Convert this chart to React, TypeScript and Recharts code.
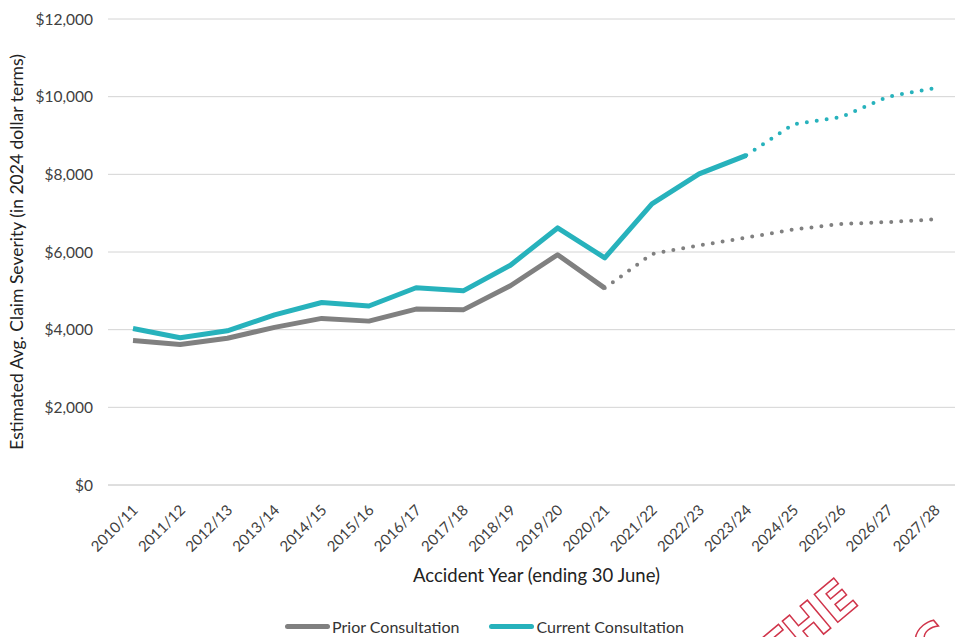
import React from "react";
import {
  CartesianGrid,
  Label,
  Legend,
  Line,
  LineChart,
  XAxis,
  YAxis,
} from "recharts";

const years = [
  "2010/11", "2011/12", "2012/13", "2013/14", "2014/15", "2015/16",
  "2016/17", "2017/18", "2018/19", "2019/20", "2020/21", "2021/22",
  "2022/23", "2023/24", "2024/25", "2025/26", "2026/27", "2027/28",
];

// values, in 2024 dollars
const priorConsultation = [
  3720, 3620, 3780, 4060, 4290, 4220, 4530, 4510, 5130, 5930, 5070,
  5950, 6170, 6370, 6580, 6720, 6770, 6840,
];
const currentConsultation = [
  4030, 3790, 3970, 4380, 4700, 4610, 5080, 5000, 5660, 6620, 5850,
  7240, 8010, 8490, 9290, 9470, 10000, 10220,
];

// last year that is actual experience; dotted after that
const priorLastActual = 10;
const currentLastActual = 13;

const yTicks = [0, 2000, 4000, 6000, 8000, 10000, 12000];

const GREY = "#808080";
const TEAL = "#27b2bc";
const FONT = "Lato, 'Open Sans', sans-serif";

const data = years.map((year, i) => ({
  year,
  priorActual: i <= priorLastActual ? priorConsultation[i] : null,
  priorProjected: i >= priorLastActual ? priorConsultation[i] : null,
  currentActual: i <= currentLastActual ? currentConsultation[i] : null,
  currentProjected: i >= currentLastActual ? currentConsultation[i] : null,
}));

const fmtDollar = (v: number) => "$" + v.toLocaleString("en-US");

const YearTick = (props: any) => {
  const { x, y, payload } = props;
  return (
    <text
      transform={`translate(${x + 6}, ${y + 26}) rotate(-45)`}
      textAnchor="end"
      fontSize={15}
      fontFamily={FONT}
      fill="#404040"
    >
      {payload.value}
    </text>
  );
};

const LegendBox = () => (
  <div
    style={{
      display: "flex",
      justifyContent: "center",
      alignItems: "center",
      gap: 30,
      fontFamily: FONT,
      fontSize: 16,
      color: "#333",
      paddingLeft: 6,
      marginTop: 10,
    }}
  >
    <span style={{ display: "flex", alignItems: "center" }}>
      <span style={{ width: 45, height: 5, background: GREY, borderRadius: 3, marginRight: 2 }} />
      Prior Consultation
    </span>
    <span style={{ display: "flex", alignItems: "center" }}>
      <span style={{ width: 45, height: 5, background: TEAL, borderRadius: 3, marginRight: 2 }} />
      Current Consultation
    </span>
  </div>
);

export default function App() {
  return (
    <div style={{ position: "absolute", left: 0, top: 0, width: 955, height: 637, background: "#fff", overflow: "hidden" }}>
      <LineChart
        width={955}
        height={637}
        data={data}
        margin={{ top: 19, right: 0, left: 8, bottom: 0 }}
      >
        <CartesianGrid vertical={false} stroke="#d4d4d4" />
        <XAxis
          dataKey="year"
          height={122}
          padding={{ left: 25, right: 20 }}
          axisLine={{ stroke: "#d4d4d4" }}
          tickLine={false}
          tickSize={0}
          tickMargin={0}
          interval={0}
          tick={<YearTick />}
        >
          <Label
            content={(p: any) => {
              const vb = p.viewBox;
              return (
                <text
                  x={vb.x + vb.width / 2 + 5}
                  y={582}
                  textAnchor="middle"
                  fontSize={18.5}
                  fontFamily={FONT}
                  fill="#222"
                >
                  Accident Year (ending 30 June)
                </text>
              );
            }}
          />
        </XAxis>
        <YAxis
          width={100}
          domain={[0, 12000]}
          ticks={yTicks}
          tickFormatter={fmtDollar}
          axisLine={false}
          tickLine={false}
          tickSize={0}
          tickMargin={15}
          tick={{ fontSize: 15.5, fontFamily: FONT, fill: "#404040" }}
        >
          <Label
            content={(p: any) => {
              const vb = p.viewBox;
              const cy = vb.y + vb.height / 2;
              return (
                <text
                  transform={`translate(16, ${cy}) rotate(-90)`}
                  textAnchor="middle"
                  dominantBaseline="central"
                  fontSize={17.5}
                  fontFamily={FONT}
                  fill="#222"
                >
                  Estimated Avg. Claim Severity (in 2024 dollar terms)
                </text>
              );
            }}
          />
        </YAxis>
        <Legend
          verticalAlign="bottom"
          height={30}
          wrapperStyle={{ height: 30 }}
          content={<LegendBox />}
        />
        <Line
          dataKey="priorActual"
          stroke={GREY}
          strokeWidth={5}
          dot={false}
          activeDot={false}
          isAnimationActive={false}
          strokeLinejoin="round"
        />
        <Line
          dataKey="priorProjected"
          stroke={GREY}
          strokeWidth={4}
          strokeDasharray="0 10"
          strokeLinecap="round"
          dot={false}
          activeDot={false}
          isAnimationActive={false}
        />
        <Line
          dataKey="currentActual"
          stroke={TEAL}
          strokeWidth={5}
          dot={false}
          activeDot={false}
          isAnimationActive={false}
          strokeLinejoin="round"
        />
        <Line
          dataKey="currentProjected"
          stroke={TEAL}
          strokeWidth={4}
          strokeDasharray="0 10"
          strokeLinecap="round"
          dot={false}
          activeDot={false}
          isAnimationActive={false}
        />
      </LineChart>
      <svg
        width={955}
        height={637}
        style={{ position: "absolute", left: 0, top: 0, pointerEvents: "none" }}
      >
        <text
          transform="translate(776, 674) rotate(-40)"
          fontSize={50}
          fontWeight="bold"
          fontFamily="'DejaVu Sans', sans-serif"
          fill="none"
          stroke="#d0344a"
          strokeWidth={1.5}
        >
          THE
        </text>
        <text
          transform="translate(930, 668) rotate(-40)"
          fontSize={50}
          fontWeight="bold"
          fontFamily="'DejaVu Sans', sans-serif"
          fill="none"
          stroke="#d0344a"
          strokeWidth={1.5}
        >
          C
        </text>
      </svg>
    </div>
  );
}
